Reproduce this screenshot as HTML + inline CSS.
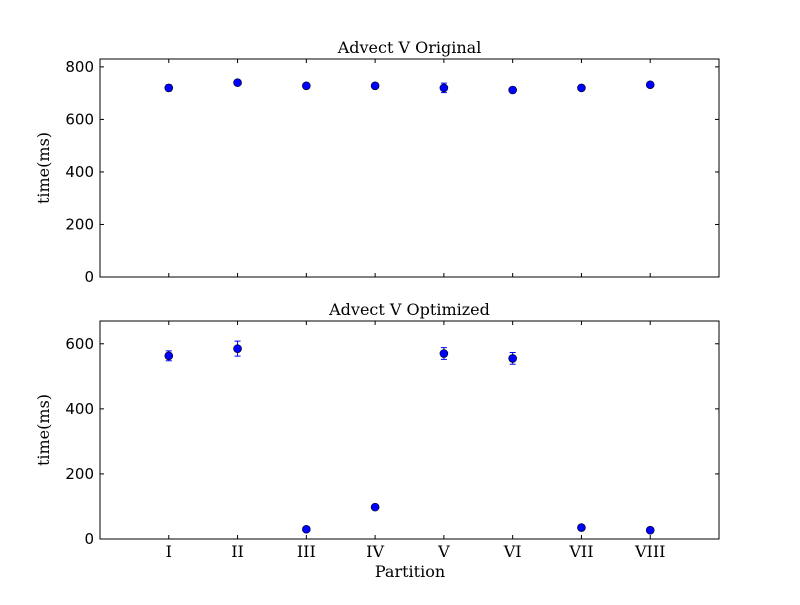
<!DOCTYPE html>
<html><head><meta charset="utf-8"><style>
body{margin:0;background:#fff;}
svg text{font-family:"DejaVu Serif","Liberation Serif",serif;}
.tk{font-family:"DejaVu Sans","Liberation Sans",sans-serif;font-size:15px;}
</style></head><body>
<svg id="c" width="800" height="600" xmlns="http://www.w3.org/2000/svg"></svg>
<script>
const categories=["I","II","III","IV","V","VI","VII","VIII"];
const origValues=[720,740,728,728,720,712,720,732];
const origErrors=[12,8,6,6,18,8,6,8];
const optValues=[563,585,30,98,570,555,35,27];
const optErrors=[15,23,5,5,18,18,5,4];
const origTicks=[0,200,400,600,800];
const optTicks=[0,200,400,600];
const svg=document.getElementById('c');
const NS="http://www.w3.org/2000/svg";
function mk(t,a,p){const e=document.createElementNS(NS,t);for(const k in a)e.setAttribute(k,a[k]);(p||svg).appendChild(e);return e;}
const X0=100,X1=719;
function xs(i){return X0+(i+1)*(X1-X0)/9;}
function panel(name,top,bot,ymax,title,vals,errs,ticks,showX){
  const g=mk('g',{});
  
  
  const ys=v=>bot-(v/ymax)*(bot-top);
  mk('rect',{x:X0,y:top,width:X1-X0,height:bot-top,fill:'#fff',stroke:'#000'},g);
  const t=mk('text',{x:(X0+X1)/2,y:top-6,'text-anchor':'middle','font-size':'16'},g);t.textContent=title;
  
  ticks.forEach(v=>{const y=ys(v);
    mk('line',{x1:X0,x2:X0+4,y1:y,y2:y,stroke:'#000'},g);
    mk('line',{x1:X1,x2:X1-4,y1:y,y2:y,stroke:'#000'},g);
    const l=mk('text',{x:X0-6,y:y+5,'text-anchor':'end',class:'tk'},g);l.textContent=v;
    });
  categories.forEach((c,i)=>{const x=xs(i);
    mk('line',{x1:x,x2:x,y1:bot,y2:bot-4,stroke:'#000'},g);
    mk('line',{x1:x,x2:x,y1:top,y2:top+4,stroke:'#000'},g);
    if(showX){const l=mk('text',{x:x,y:bot+18,'text-anchor':'middle','font-size':'16'},g);l.textContent=c;
      }
    const yt=ys(vals[i]+errs[i]),yb=ys(vals[i]-errs[i]),y=ys(vals[i]);
    const eb=mk('path',{d:`M${x},${yt}V${yb}M${x-3},${yt}H${x+3}M${x-3},${yb}H${x+3}`,stroke:'#00f',fill:'none'},g);
    
    const p=mk('circle',{cx:x,cy:y,r:4,fill:'#00f',stroke:'#000','stroke-width':0.6},g);
    
  });
  const yl=mk('text',{x:0,y:0,'text-anchor':'middle','font-size':'16',transform:`translate(49,${(top+bot)/2}) rotate(-90)`},g);
  yl.textContent='time(ms)';
}
panel('top-panel',59,277,830,'Advect V Original',origValues,origErrors,origTicks,false);
panel('bottom-panel',321,539,670,'Advect V Optimized',optValues,optErrors,optTicks,true);
const xl=mk('text',{x:410,y:577,'text-anchor':'middle','font-size':'16'});
xl.textContent='Partition';


</script>
</body></html>
